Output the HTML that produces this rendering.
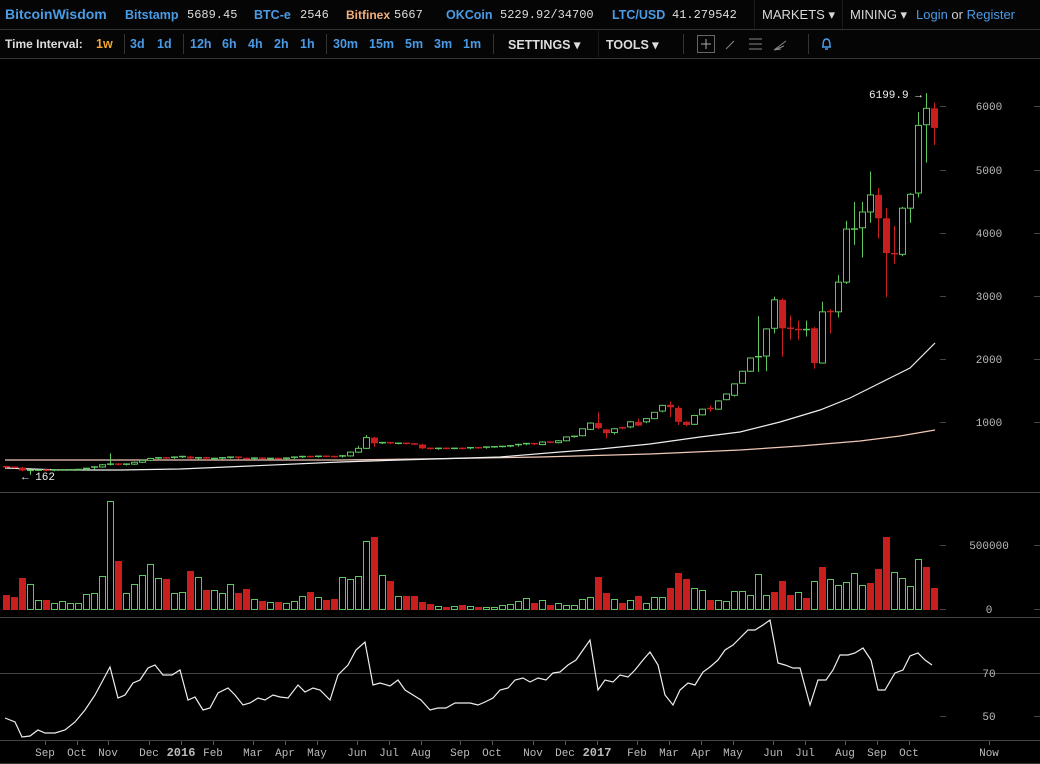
<!DOCTYPE html>
<html><head><meta charset="utf-8">
<style>
html,body{margin:0;padding:0;background:#000;width:1040px;height:764px;overflow:hidden;font-family:"Liberation Sans",sans-serif}
.t{position:absolute;white-space:nowrap}
.b{font-weight:bold;font-size:12.5px;color:#4a9be6}
.m{font-family:"Liberation Mono",monospace;font-size:12px;color:#ddd}
.w{color:#d8d8d8}
.sep{position:absolute;width:1px;background:#333}
</style></head><body>
<div style="position:absolute;left:0;top:0;width:1040px;height:29px;background:#050505;border-bottom:1px solid #333"></div>
<div style="position:absolute;left:0;top:30px;width:1040px;height:28px;background:#050505;border-bottom:1px solid #333"></div>
<div class="t b" style="left:5px;top:6px;font-size:14px">BitcoinWisdom</div>
<div class="t b" style="left:125px;top:8px">Bitstamp</div><div class="t m" style="left:187px;top:8px">5689.45</div>
<div class="t b" style="left:254px;top:8px">BTC-e</div><div class="t m" style="left:300px;top:8px">2546</div>
<div class="t b" style="left:346px;top:8px;color:#f2b07a;font-size:12px">Bitfinex</div><div class="t m" style="left:394px;top:8px">5667</div>
<div class="t b" style="left:446px;top:8px">OKCoin</div><div class="t m" style="left:500px;top:8px">5229.92/34700</div>
<div class="t b" style="left:612px;top:8px">LTC/USD</div><div class="t m" style="left:672px;top:8px">41.279542</div>
<div class="sep" style="left:754px;top:0;height:29px;background:#1a1a1a"></div>
<div class="t w" style="left:762px;top:7px;font-size:13px">MARKETS ▾</div>
<div class="sep" style="left:842px;top:0;height:29px;background:#1a1a1a"></div>
<div class="t w" style="left:850px;top:7px;font-size:13px">MINING ▾</div>
<div class="t" style="left:916px;top:7px;font-size:13px;color:#4a9be6">Login <span style="color:#ccc">or</span> Register</div>

<div class="t b w" style="left:5px;top:37px;color:#ddd;font-size:12px">Time Interval:</div>
<div class="t b" style="left:96px;top:37px;color:#f0a830">1w</div>
<div class="sep" style="left:124px;top:34px;height:20px"></div>
<div class="t b" style="left:130px;top:37px">3d</div><div class="t b" style="left:157px;top:37px">1d</div>
<div class="sep" style="left:183px;top:34px;height:20px"></div>
<div class="t b" style="left:190px;top:37px">12h</div><div class="t b" style="left:222px;top:37px">6h</div><div class="t b" style="left:248px;top:37px">4h</div><div class="t b" style="left:274px;top:37px">2h</div><div class="t b" style="left:300px;top:37px">1h</div>
<div class="sep" style="left:326px;top:34px;height:20px"></div>
<div class="t b" style="left:333px;top:37px">30m</div><div class="t b" style="left:369px;top:37px">15m</div><div class="t b" style="left:405px;top:37px">5m</div><div class="t b" style="left:434px;top:37px">3m</div><div class="t b" style="left:463px;top:37px">1m</div>
<div class="sep" style="left:493px;top:34px;height:20px"></div>
<div class="t b" style="left:508px;top:37px;color:#ddd">SETTINGS ▾</div>
<div class="sep" style="left:598px;top:31px;height:26px;background:#1a1a1a"></div>
<div class="t b" style="left:606px;top:37px;color:#ddd">TOOLS ▾</div>
<div class="sep" style="left:683px;top:34px;height:20px"></div>
<div class="sep" style="left:808px;top:34px;height:20px"></div>
<svg style="position:absolute;left:0;top:0" width="1040" height="60">
<rect x="697.5" y="35.5" width="17" height="17" fill="none" stroke="#666"/>
<path d="M706 39v10M701 44h10" stroke="#aaa"/>
<path d="M726 49l8-8" stroke="#888"/>
<path d="M749 39h13M749 44h13M749 49h13" stroke="#888"/>
<path d="M774 50l12-9M774 50l10-4M774 50l7-1" stroke="#888" fill="none"/>
<path d="M822 47h9M823 47c0-6 1-8 3.5-8s3.5 2 3.5 8M825 49h3" stroke="#4a9be6" stroke-width="1.5" fill="none"/>
</svg>

<svg id="ch" style="position:absolute;left:0;top:60px" width="1040" height="704" viewBox="0 60 1040 704"></svg>
<script>
(function(){
var s=document.getElementById('ch'),h='';
function Y(p){return 485-p*0.0632;}
var G='#5ec75e',R='#c81e1e';
var early=[280,275,230,232,235,230,238,240,242,245,262,285,320,330,320,330,360,390,420,430,425,440,450,420,430,410,420,430,440,420,415,425,415,420,415,425,440,450,445,455,450,445,460,520,580,750,660,670,655,660,650,640,580,570,580,575,580,575,590,585,600,605,610,620,640,655,640,680,670,700,760,770];
var C=[];
for(var i=0;i<early.length;i++){var o=i?early[i-1]:290,c=early[i];C.push([o,Math.max(o,c)+12,Math.min(o,c)-12,c]);}
C[3][2]=162;C[13][1]=500;C[44][1]=620;C[45][1]=790;C[46][2]=600;
var late=[[780,890,770,890],[880,990,870,980],[980,1150,880,900],[880,890,740,820],[830,900,800,890],[905,920,880,900],[920,1010,900,1000],[1000,1050,930,940],[1000,1060,980,1050],[1050,1150,1040,1150],[1170,1270,1150,1260],[1270,1320,1075,1230],[1220,1250,950,1000],[1000,1010,930,950],[960,1110,950,1100],[1110,1210,1100,1200],[1210,1260,1160,1200],[1200,1340,1190,1330],[1350,1450,1340,1440],[1420,1610,1400,1600],[1610,1810,1600,1800],[1800,2020,1790,2010],[2010,2670,1790,2030],[2040,2480,1800,2470],[2480,2980,2400,2930],[2930,2950,2030,2480],[2480,2680,2300,2470],[2460,2600,2300,2450],[2440,2600,2350,2460],[2480,2500,1840,1930],[1930,2900,1920,2740],[2745,2780,2400,2740],[2740,3320,2650,3210],[3210,4180,3180,4050],[4040,4480,3800,4050],[4070,4480,3600,4320],[4320,4960,4150,4590],[4590,4700,3900,4220],[4220,4380,2970,3670],[3660,4100,3500,3650],[3650,4400,3620,4380],[4380,4620,4150,4600],[4620,5900,4550,5690],[5700,6200,5100,5960],[5960,6050,5380,5650]];
C=C.concat(late);
var vc='rrrggrggggggggrgggggrggrgrgggrrgrgrgggrgrrggggrgrgrrrrgrgrgrggggggrgrgggggrrgrgrgggrrrggrgggggggrrrgrgrgggggrrrggggr';
var vt=[595,597,578,584,600,600,603,601,603,603,594,593,576,501,561,593,584,575,564,578,579,593,592,571,577,590,590,593,584,593,589,599,601,602,602,603,601,596,592,597,600,599,577,579,576,541,537,575,581,596,596,596,602,604,606,607,606,605,606,607,607,607,605,604,601,598,603,600,605,603,605,605,599,597,577,593,599,603,600,596,603,597,597,588,573,579,588,590,600,600,601,591,591,595,574,595,592,581,595,592,598,581,567,579,585,582,573,585,583,569,537,572,578,586,559,567,588];
h+='<line x1="0" y1="492.5" x2="1040" y2="492.5" stroke="#444"/>';
h+='<line x1="0" y1="617.5" x2="1040" y2="617.5" stroke="#444"/>';
h+='<line x1="0" y1="673.5" x2="1040" y2="673.5" stroke="#444"/>';
h+='<line x1="0" y1="740.5" x2="1040" y2="740.5" stroke="#444"/>';
h+='<line x1="0" y1="763.5" x2="1040" y2="763.5" stroke="#333"/>';
var pl=[[6000,106],[5000,170],[4000,233],[3000,296],[2000,359],[1000,422]];
pl.forEach(function(a){h+='<line x1="940" y1="'+a[1]+'.5" x2="946" y2="'+a[1]+'.5" stroke="#444"/><line x1="1034" y1="'+a[1]+'.5" x2="1040" y2="'+a[1]+'.5" stroke="#444"/><text x="989" y="'+(a[1]+4)+'" text-anchor="middle" fill="#bbb" font-family="Liberation Mono,monospace" font-size="11">'+a[0]+'</text>';});
[['500000',545],['0',609],['70',673],['50',716]].forEach(function(a){h+='<line x1="940" y1="'+a[1]+'.5" x2="946" y2="'+a[1]+'.5" stroke="#444"/><line x1="1034" y1="'+a[1]+'.5" x2="1040" y2="'+a[1]+'.5" stroke="#444"/><text x="989" y="'+(a[1]+4)+'" text-anchor="middle" fill="#bbb" font-family="Liberation Mono,monospace" font-size="11">'+a[0]+'</text>';});
var wl=[[5,468],[60,470],[120,470],[180,469],[250,466],[340,462],[400,460],[500,457],[560,452],[600,449],[650,444],[700,437],[740,432],[780,422],[820,410],[850,398],[880,383],[910,368],[935,343]];
var pk=[[5,460],[340,460],[420,459],[540,457],[650,454],[740,450],[800,446],[860,441],[900,436],[935,430]];
h+='<polyline points="'+pk.join(' ')+'" fill="none" stroke="#f0c8b8" stroke-width="1.2"/>';
h+='<polyline points="'+wl.join(' ')+'" fill="none" stroke="#eee" stroke-width="1.2"/>';
for(var i=0;i<C.length;i++){
 var x=6+8*i,c=C[i],up=c[3]>=c[0],col=up?G:R;
 var t=Y(Math.max(c[0],c[3])),b=Y(Math.min(c[0],c[3]));
 h+='<line x1="'+(x+.5)+'" y1="'+Y(c[1])+'" x2="'+(x+.5)+'" y2="'+Y(c[2])+'" stroke="'+col+'"/>';
 if(b-t<1.5)h+='<line x1="'+(x-3)+'" y1="'+t+'" x2="'+(x+4)+'" y2="'+t+'" stroke="'+col+'" stroke-width="1.5"/>';
 else if(up)h+='<rect x="'+(x-2.5)+'" y="'+t+'" width="6" height="'+(b-t)+'" fill="#000" stroke="'+col+'"/>';
 else h+='<rect x="'+(x-3)+'" y="'+t+'" width="7" height="'+(b-t)+'" fill="'+col+'"/>';
}
for(var i=0;i<vt.length;i++){
 var x=6+8*i;
 if(vc[i]=='g')h+='<rect x="'+(x-2.5)+'" y="'+(vt[i]+.5)+'" width="6" height="'+(609-vt[i])+'" fill="none" stroke="'+G+'"/>';
 else h+='<rect x="'+(x-3)+'" y="'+vt[i]+'" width="7" height="'+(610-vt[i])+'" fill="'+R+'"/>';
}
var rs=[[5,718],[15,722],[22,737],[30,736],[38,730],[45,733],[55,733],[65,730],[75,722],[85,710],[95,695],[110,667],[118,698],[125,695],[133,683],[140,680],[148,668],[155,665],[163,675],[172,675],[180,670],[188,700],[195,697],[203,710],[210,708],[218,693],[228,688],[235,695],[243,705],[250,703],[258,698],[265,700],[273,695],[280,697],[288,698],[298,685],[305,692],[313,688],[320,690],[330,700],[338,675],[348,665],[356,650],[365,642],[373,685],[380,683],[390,686],[398,680],[405,690],[413,695],[421,700],[430,710],[438,708],[446,708],[455,703],[462,703],[470,703],[478,705],[485,702],[493,698],[500,690],[508,688],[515,680],[523,678],[530,682],[538,678],[546,680],[553,673],[560,672],[568,665],[576,660],[583,650],[590,640],[598,690],[605,680],[613,682],[620,675],[628,677],[635,670],[643,660],[650,652],[658,665],[665,695],[673,705],[680,690],[688,683],[695,685],[703,672],[710,667],[718,660],[725,650],[733,645],[740,638],[748,630],[755,630],[763,625],[770,620],[778,663],[785,665],[793,668],[800,668],[810,705],[818,680],[826,680],[833,670],[840,655],[848,655],[855,653],[863,648],[871,660],[878,690],[885,690],[895,673],[903,670],[910,656],[918,653],[925,660],[932,665]];
h+='<polyline points="'+rs.join(' ')+'" fill="none" stroke="#eee" stroke-width="1.2"/>';
h+='<text x="869" y="98" fill="#eee" font-family="Liberation Mono,monospace" font-size="11">6199.9 →</text>';
h+='<text x="22" y="480" fill="#eee" font-family="Liberation Mono,monospace" font-size="11">← 162</text>';
var ml=[['Sep',45],['Oct',77],['Nov',108],['Dec',149],['2016',181,1],['Feb',213],['Mar',253],['Apr',285],['May',317],['Jun',357],['Jul',389],['Aug',421],['Sep',460],['Oct',492],['Nov',533],['Dec',565],['2017',597,1],['Feb',637],['Mar',669],['Apr',701],['May',733],['Jun',773],['Jul',805],['Aug',845],['Sep',877],['Oct',909],['Now',989]];
ml.forEach(function(a){h+='<line x1="'+a[1]+'.5" y1="741" x2="'+a[1]+'.5" y2="745" stroke="#555"/><text x="'+a[1]+'" y="756" text-anchor="middle" fill="#bbb" font-family="Liberation Mono,monospace" font-size="'+(a[2]?12:11)+'"'+(a[2]?' font-weight="bold"':'')+'>'+a[0]+'</text>';});
s.innerHTML=h;
})();
</script>
</body></html>
